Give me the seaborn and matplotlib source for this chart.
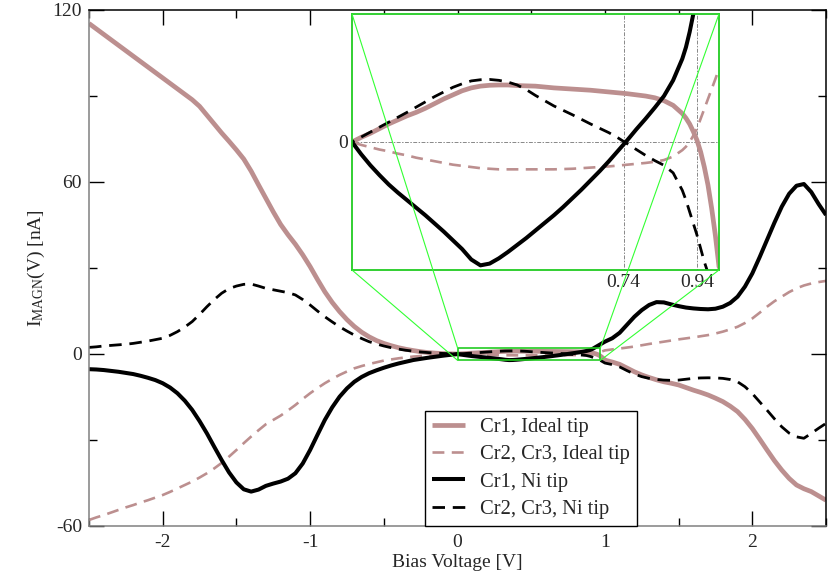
import matplotlib
matplotlib.use("Agg")
import matplotlib.pyplot as plt
from matplotlib.patches import Rectangle, ConnectionPatch
from matplotlib.ticker import MultipleLocator, FixedLocator
import seaborn as sns
import pandas as pd

# -------------------------------
# DATA
# -------------------------------
bias = [-2.5, -2.45, -2.4, -2.35, -2.3, -2.25, -2.2, -2.15, -2.1, -2.05,
        -2.0, -1.95, -1.9, -1.85, -1.8, -1.75, -1.7, -1.65, -1.6, -1.55,
        -1.5, -1.45, -1.4, -1.35, -1.3, -1.25, -1.2, -1.15, -1.1, -1.05,
        -1.0, -0.95, -0.9, -0.85, -0.8, -0.75, -0.7, -0.65, -0.6, -0.55,
        -0.5, -0.45, -0.4, -0.35, -0.3, -0.25, -0.2, -0.15, -0.1, -0.05,
        # zoomed window
        0.0, 0.025, 0.05, 0.075, 0.1, 0.125, 0.15, 0.175, 0.2, 0.225,
        0.25, 0.275, 0.3, 0.325, 0.35, 0.375, 0.4, 0.425, 0.45, 0.475,
        0.5, 0.525, 0.55, 0.575, 0.6, 0.625, 0.65, 0.675, 0.7, 0.725,
        0.75, 0.775, 0.8, 0.825, 0.85, 0.875, 0.9, 0.91, 0.92, 0.93,
        0.94, 0.95, 0.96, 0.97, 0.98, 0.99, 1.0,
        1.05, 1.1, 1.15, 1.2, 1.25, 1.3, 1.35, 1.4, 1.45, 1.5,
        1.55, 1.6, 1.65, 1.7, 1.75, 1.8, 1.85, 1.9, 1.95, 2.0,
        2.05, 2.1, 2.15, 2.2, 2.25, 2.3, 2.35, 2.4, 2.45, 2.5]

cr1_ideal = [115.3, 113.4, 111.5, 109.6, 107.7, 105.8, 103.9, 102.0, 100.1, 98.2,
             96.3, 94.4, 92.5, 90.6, 88.7, 86.4, 83.3, 80.2, 77.1, 74.2,
             71.2, 68.0, 63.8, 59.0, 54.3, 49.6, 45.2, 41.6, 38.3, 34.6,
             30.5, 26.0, 21.7, 18.0, 14.8, 12.0, 9.6, 7.6, 6.0, 4.7,
             3.7, 2.9, 2.2, 1.65, 1.2, 0.8, 0.5, 0.3, 0.15, 0.06,
             0.0, 0.08, 0.15, 0.23, 0.31, 0.38, 0.45, 0.51, 0.58, 0.66,
             0.74, 0.81, 0.88, 0.93, 0.96, 0.975, 0.98, 0.98, 0.97, 0.965,
             0.96, 0.945, 0.93, 0.92, 0.91, 0.90, 0.89, 0.875, 0.86, 0.845,
             0.83, 0.81, 0.79, 0.76, 0.71, 0.63, 0.49, 0.41, 0.31, 0.18,
             0.03, -0.17, -0.43, -0.74, -1.14, -1.6, -2.14,
             -2.8, -3.6, -4.9, -6.2, -7.3, -8.2, -9.0, -9.7, -10.2, -10.8,
             -11.7, -12.6, -13.4, -14.3, -15.4, -16.6, -18.2, -20.1, -22.8, -26.0,
             -29.7, -33.5, -37.2, -40.5, -43.4, -45.7, -47.0, -48.0, -49.5, -51.0]

cr23_ideal = [-57.9, -57.0, -56.2, -55.3, -54.4, -53.5, -52.7, -51.8, -51.0, -50.1,
              -49.2, -48.1, -46.9, -45.7, -44.5, -43.1, -41.6, -39.9, -38.0, -35.8,
              -33.5, -31.1, -28.8, -26.6, -24.5, -23.0, -21.5, -19.7, -17.8, -15.7,
              -13.7, -11.9, -10.2, -8.7, -7.3, -6.1, -5.0, -4.2, -3.5, -2.9,
              -2.3, -1.9, -1.5, -1.2, -0.9, -0.7, -0.5, -0.35, -0.2, -0.1,
              0.0, -0.05, -0.09, -0.13, -0.16, -0.2, -0.23, -0.27, -0.30, -0.33,
              -0.36, -0.39, -0.41, -0.43, -0.45, -0.46, -0.47, -0.47, -0.47, -0.47,
              -0.47, -0.47, -0.47, -0.465, -0.46, -0.45, -0.44, -0.43, -0.42, -0.405,
              -0.39, -0.375, -0.36, -0.34, -0.31, -0.25, -0.14, -0.08, 0.0, 0.11,
              0.23, 0.4, 0.57, 0.74, 0.91, 1.08, 1.26,
              1.6, 1.9, 2.25, 2.6, 3.05, 3.5, 3.9, 4.3, 4.7, 5.1,
              5.45, 5.8, 6.2, 6.6, 7.15, 7.8, 8.6, 9.5, 10.8, 12.4,
              14.4, 16.5, 18.4, 20.0, 21.6, 22.9, 23.9, 24.6, 25.1, 25.5]

cr1_ni = [-5.3, -5.4, -5.6, -5.9, -6.2, -6.6, -7.0, -7.6, -8.3, -9.1,
          -10.2, -11.7, -13.7, -16.3, -19.5, -23.4, -27.7, -32.4, -37.0, -41.3,
          -44.8, -47.2, -48.0, -47.3, -46.0, -45.2, -44.5, -43.5, -41.6, -38.2,
          -33.5, -28.2, -23.0, -18.6, -14.9, -12.0, -9.7, -8.0, -6.7, -5.7,
          -4.8, -4.0, -3.3, -2.7, -2.1, -1.7, -1.3, -0.95, -0.6, -0.3,
          0.0, -0.21, -0.40, -0.57, -0.73, -0.87, -1.0, -1.13, -1.26, -1.40,
          -1.54, -1.69, -1.84, -2.02, -2.12, -2.09, -2.0, -1.89, -1.77, -1.65,
          -1.52, -1.39, -1.26, -1.12, -0.97, -0.82, -0.66, -0.5, -0.33, -0.15,
          0.03, 0.22, 0.4, 0.59, 0.79, 1.06, 1.43, 1.63, 1.89, 2.2,
          2.5, 2.8, 3.1, 3.4, 3.7, 4.0, 4.3,
          5.5, 7.4, 10.2, 13.0, 15.3, 17.1, 18.1, 18.0, 17.3, 16.7,
          16.2, 15.9, 15.7, 15.6, 15.8, 16.5, 17.8, 20.0, 23.5, 28.1,
          33.8, 39.8, 45.8, 51.4, 55.9, 58.7, 59.3, 56.5, 52.3, 48.5]

cr23_ni = [2.3, 2.5, 2.8, 3.0, 3.2, 3.4, 3.7, 4.1, 4.5, 5.0,
           5.5, 6.5, 7.8, 9.4, 11.3, 13.8, 16.5, 19.0, 21.2, 22.8,
           23.7, 24.3, 24.4, 23.7, 22.9, 22.4, 21.9, 21.4, 20.6, 19.0,
           17.1, 15.0, 13.0, 11.2, 9.5, 8.0, 6.6, 5.4, 4.3, 3.5,
           2.8, 2.2, 1.7, 1.3, 1.0, 0.7, 0.5, 0.3, 0.2, 0.1,
           0.0, 0.085, 0.17, 0.255, 0.34, 0.425, 0.51, 0.6, 0.69, 0.78,
           0.86, 0.94, 1.0, 1.05, 1.07, 1.075, 1.06, 1.03, 0.98, 0.9,
           0.8, 0.71, 0.62, 0.545, 0.47, 0.39, 0.31, 0.235, 0.16, 0.07,
           -0.03, -0.13, -0.23, -0.32, -0.40, -0.53, -0.83, -1.0, -1.2, -1.4,
           -1.6, -1.83, -2.06, -2.25, -2.55, -2.85, -3.15,
           -3.7, -4.5, -5.8, -7.0, -7.9, -8.5, -8.9, -9.1, -9.2, -9.1,
           -8.8, -8.5, -8.35, -8.3, -8.35, -8.5, -8.9, -9.7, -11.4, -13.8,
           -16.7, -19.6, -22.6, -25.4, -27.6, -28.9, -29.4, -27.7, -25.9, -24.2]

labels = ["Cr1, Ideal tip", "Cr2, Cr3, Ideal tip", "Cr1, Ni tip", "Cr2, Cr3, Ni tip"]

df = pd.DataFrame({"bias": bias,
                   labels[0]: cr1_ideal, labels[1]: cr23_ideal,
                   labels[2]: cr1_ni, labels[3]: cr23_ni})

rosy = "#bc8f8f"
styles = {
    labels[0]: dict(color=rosy, lw=3.4, linestyle="-"),
    labels[1]: dict(color=rosy, lw=1.9, linestyle=(0, (4.5, 2.8))),
    labels[2]: dict(color="black", lw=2.9, linestyle="-"),
    labels[3]: dict(color="black", lw=2.0, linestyle=(0, (4.5, 2.8))),
}
joins = dict(solid_joinstyle="round", dash_joinstyle="round", solid_capstyle="butt")

# -------------------------------
# STYLE
# -------------------------------
sns.set_style("ticks")
plt.rcParams["font.family"] = ["Liberation Serif", "DejaVu Serif"]
plt.rcParams["mathtext.fontset"] = "custom"
plt.rcParams["mathtext.rm"] = "Liberation Serif"
plt.rcParams["mathtext.it"] = "Liberation Serif:italic"
plt.rcParams["axes.unicode_minus"] = False

fig = plt.figure(figsize=(8.3, 5.76), dpi=100)
ax = fig.add_axes([89 / 830, 1 - 526 / 576, (826 - 89) / 830, (526 - 10) / 576])

for name in labels:
    sns.lineplot(data=df, x="bias", y=name, ax=ax, label=name,
                 estimator=None, sort=False, **styles[name], **joins)

ax.set_xlim(-2.5, 2.5)
ax.set_ylim(-60, 120)
ax.xaxis.set_major_locator(MultipleLocator(1))
ax.xaxis.set_minor_locator(MultipleLocator(0.5))
ax.yaxis.set_major_locator(MultipleLocator(60))
ax.yaxis.set_minor_locator(MultipleLocator(30))
ax.tick_params(which="both", direction="in", top=True, right=True,
               labelsize=14, width=1.0, color="black")
ax.tick_params(which="major", length=11)
ax.tick_params(which="minor", length=5.5)
ax.tick_params(axis="x", pad=6)
ax.tick_params(axis="y", pad=5)

for side in ["left", "bottom"]:
    ax.spines[side].set_color("#808080")
for side in ["top", "right"]:
    ax.spines[side].set_color("black")
for sp in ax.spines.values():
    sp.set_linewidth(1.1)

ax.set_xlabel("Bias Voltage [V]", fontsize=14, labelpad=2)
ax.set_ylabel(r"$\mathrm{I_{MAGN}(V)\ [nA]}$", fontsize=14, labelpad=4)

leg = ax.legend(loc="lower left", bbox_to_anchor=(0.456, 0.0), borderaxespad=0,
                fontsize=14.8, frameon=True, fancybox=False, framealpha=1,
                edgecolor="black", borderpad=0.35, handlelength=1.6,
                handletextpad=0.7, labelspacing=0.38)
leg.get_frame().set_linewidth(1.0)

# zoom window on the main plot
green = "#22cc22"
x0, x1, y0, y1 = 0.0, 0.97, -2.2, 2.2
ax.add_patch(Rectangle((x0, y0), x1 - x0, y1 - y0, fill=False,
                       edgecolor=green, lw=1.2, zorder=5))

# -------------------------------
# INSET
# -------------------------------
axin = fig.add_axes([352 / 830, 1 - 270 / 576, (719 - 352) / 830, (270 - 14) / 576])
for name in labels:
    sns.lineplot(data=df, x="bias", y=name, ax=axin, legend=False,
                 estimator=None, sort=False, **styles[name], **joins)
axin.set_xlim(0, 1.0)
axin.set_ylim(-2.2, 2.2)
axin.xaxis.set_major_locator(FixedLocator([0.74, 0.94]))
axin.yaxis.set_major_locator(FixedLocator([0]))
axin.set_xticklabels(["0.74", "0.94"])
axin.set_yticklabels(["0"])
axin.set_xlabel("")
axin.set_ylabel("")
axin.tick_params(direction="in", length=0, labelsize=14, pad=3)
axin.grid(True, color="#888888", lw=0.7, linestyle=(0, (1.5, 1.5, 4, 1.5)))
for sp in axin.spines.values():
    sp.set_color(green)
    sp.set_linewidth(1.3)

# connector lines, drawn over everything
for (ia, pb) in [((0, 1), (x0, y1)), ((0, 0), (x0, y0)),
                 ((1, 1), (x1, y1)), ((1, 0), (x1, y0))]:
    con = ConnectionPatch(xyA=ia, coordsA=axin.transAxes, xyB=pb, coordsB=ax.transData,
                          color="#33ff33", lw=0.8)
    fig.add_artist(con)

plt.savefig("out.png", dpi=100)
